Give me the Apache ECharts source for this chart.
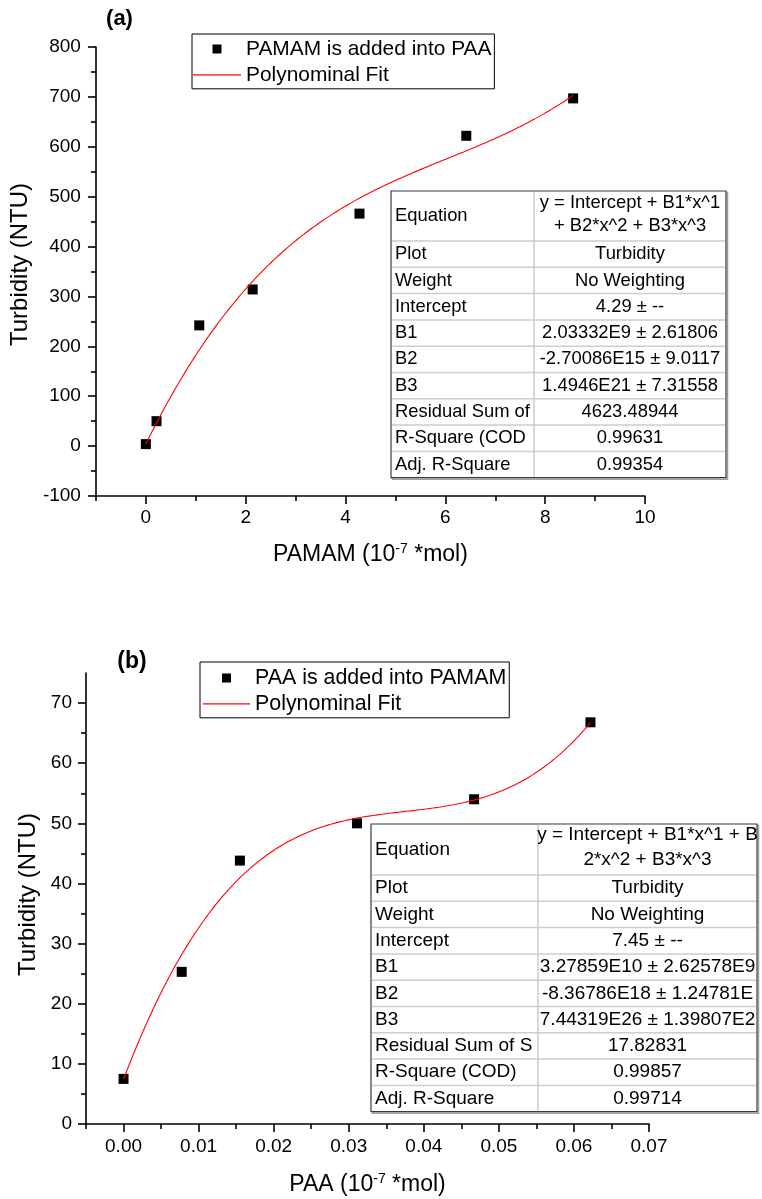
<!DOCTYPE html>
<html>
<head>
<meta charset="utf-8">
<script src="https://cdn.jsdelivr.net/npm/echarts@6/dist/echarts.min.js"></script>
<style>
  html, body { margin: 0; padding: 0; background: #fff; }
  #chart { width: 762px; height: 1199px; }
</style>
</head>
<body>
<div id="chart"></div>
<script>
// ---- Panel (a): PAMAM is added into PAA ----
const pamamAmount = [0, 0.214, 1.07, 2.14, 4.28, 6.42, 8.56];
const pamamTurbidity = [4, 50, 242, 314, 466, 622, 697];
const xTicksA = [0, 2, 4, 6, 8, 10];
const xMinorA = [-1, 1, 3, 5, 7, 9];
const yTicksA = [-100, 0, 100, 200, 300, 400, 500, 600, 700, 800];
const yMinorA = [-50, 50, 150, 250, 350, 450, 550, 650, 750];
const fitRowsA = ['Equation', 'Plot', 'Weight', 'Intercept', 'B1', 'B2', 'B3',
  'Residual Sum of', 'R-Square (COD', 'Adj. R-Square'];
const fitValuesA = ['y = Intercept + B1*x^1\n+ B2*x^2 + B3*x^3', 'Turbidity', 'No Weighting',
  '4.29 \u00b1 --', '2.03332E9 \u00b1 2.61806', '-2.70086E15 \u00b1 9.0117',
  '1.4946E21 \u00b1 7.31558', '4623.48944', '0.99631', '0.99354'];

// ---- Panel (b): PAA is added into PAMAM ----
const paaAmount = [0, 0.00775, 0.0155, 0.0311, 0.0467, 0.0622];
const paaTurbidity = [7.5, 25.3, 43.8, 50, 54, 66.8];
const xTicksB = [0, 0.01, 0.02, 0.03, 0.04, 0.05, 0.06, 0.07];
const xMinorB = [-0.005, 0.005, 0.015, 0.025, 0.035, 0.045, 0.055, 0.065];
const yTicksB = [0, 10, 20, 30, 40, 50, 60, 70];
const yMinorB = [5, 15, 25, 35, 45, 55, 65];
const fitRowsB = ['Equation', 'Plot', 'Weight', 'Intercept', 'B1', 'B2', 'B3',
  'Residual Sum of S', 'R-Square (COD)', 'Adj. R-Square'];
const fitValuesB = ['y = Intercept + B1*x^1 + B\n2*x^2 + B3*x^3', 'Turbidity', 'No Weighting',
  '7.45 \u00b1 --', '3.27859E10 \u00b1 2.62578E9', '-8.36786E18 \u00b1 1.24781E',
  '7.44319E26 \u00b1 1.39807E2', '17.82831', '0.99857', '0.99714'];

const seriesNameA = 'PAMAM is added into PAA';
const seriesNameB = 'PAA is added into PAMAM';
const fitName = 'Polynominal Fit';

const FONT = "'Liberation Sans', Arial, sans-serif";

// Cubic fit curve from the fitted coefficients listed in the table
// (x on the axis is in units of 1e-7 mol, the coefficients are per mol).
function fitCurve(values, xs) {
  const c = [3, 4, 5, 6].map(i => parseFloat(values[i]));
  const xMax = Math.max(...xs);
  const pts = [];
  const n = 160;
  for (let i = 0; i <= n; i++) {
    const x = xMax * i / n;
    const m = x * 1e-7;
    pts.push([x, c[0] + c[1] * m + c[2] * m * m + c[3] * m * m * m]);
  }
  return pts;
}

function axisPair(gridIndex, position, min, max, major, minor, fmt, name, nameCfg, labelMargin) {
  const lineStyle = { color: '#000', width: 1.6 };
  const main = {
    type: 'value', gridIndex, position, min, max,
    axisLine: { show: true, onZero: false, lineStyle },
    axisTick: { show: true, inside: false, length: 8, customValues: major, lineStyle },
    axisLabel: { show: true, customValues: major, margin: labelMargin, formatter: fmt,
      fontSize: 19, fontFamily: FONT, color: '#000' },
    splitLine: { show: false },
    name, nameLocation: 'middle', ...nameCfg
  };
  const sub = {
    type: 'value', gridIndex, position, min, max,
    axisLine: { show: false, onZero: false },
    axisTick: { show: true, inside: false, length: 5, customValues: minor, lineStyle },
    axisLabel: { show: false },
    splitLine: { show: false }
  };
  return [main, sub];
}

const xNameRich = {
  t: { fontSize: 23, fontFamily: FONT, color: '#000', lineHeight: 26 },
  s: { fontSize: 14, fontFamily: FONT, color: '#000', lineHeight: 14, verticalAlign: 'top' }
};

const xAxes = [
  ...axisPair(0, 'bottom', -1, 10, xTicksA, xMinorA, v => String(v),
    '{t|PAMAM (10}{s|-7}{t| *mol)}', { nameGap: 46, nameTextStyle: { rich: xNameRich } }, 12),
  ...axisPair(1, 'bottom', -0.005, 0.07, xTicksB, xMinorB, v => v.toFixed(2),
    '{t|PAA (10}{s|-7}{t| *mol)}', { nameGap: 48, nameTextStyle: { rich: xNameRich } }, 13)
];
const yAxes = [
  ...axisPair(0, 'left', -100, 800, yTicksA, yMinorA, v => String(v),
    'Turbidity (NTU)', { nameGap: 56, nameRotate: 90,
      nameTextStyle: { fontSize: 24, fontFamily: FONT, color: '#000', padding: [0, 0, 0, 14] } }, 15),
  ...axisPair(1, 'left', 0, 75, yTicksB, yMinorB, v => String(v),
    'Turbidity (NTU)', { nameGap: 39, nameRotate: 90,
      nameTextStyle: { fontSize: 24, fontFamily: FONT, color: '#000', padding: [0, 0, 0, 8] } }, 14)
];

// Fit-result table drawn as a block of cells
function fitTable(x0, x1, xDiv, y0, eqH, rowH, labels, values, fontSize, eqLineH) {
  const els = [];
  const n = labels.length;
  const rowTop = i => (i === 0 ? y0 : y0 + eqH + (i - 1) * rowH);
  const yEnd = rowTop(n);
  const font = fontSize + 'px ' + FONT;
  els.push({ type: 'rect', z: 20, silent: true,
    shape: { x: x0 + 1.5, y: y0 + 1.5, width: x1 - x0, height: yEnd - y0 },
    style: { fill: 'none', stroke: '#a0a0a0', lineWidth: 1.5 } });
  els.push({ type: 'rect', z: 21, silent: true,
    shape: { x: x0, y: y0, width: x1 - x0, height: yEnd - y0 },
    style: { fill: '#fff', stroke: '#3a3a3a', lineWidth: 1.2 } });
  for (let i = 1; i < n; i++) {
    els.push({ type: 'line', z: 22, silent: true,
      shape: { x1: x0 + 1, y1: rowTop(i), x2: x1 - 1, y2: rowTop(i) },
      style: { stroke: '#cdcdcd', lineWidth: 1.5 } });
  }
  els.push({ type: 'line', z: 22, silent: true,
    shape: { x1: xDiv, y1: y0 + 1, x2: xDiv, y2: yEnd - 1 },
    style: { stroke: '#cdcdcd', lineWidth: 1.5 } });
  for (let i = 0; i < n; i++) {
    const cy = (rowTop(i) + rowTop(i + 1)) / 2;
    els.push({ type: 'text', z: 23, silent: true,
      style: { text: labels[i], x: x0 + 4, y: cy, font, fill: '#000',
        textAlign: 'left', textVerticalAlign: 'middle' } });
    els.push({ type: 'text', z: 23, silent: true,
      style: { text: values[i], x: (xDiv + x1) / 2, y: cy - (i === 0 ? 2 : 0), font, fill: '#000',
        textAlign: 'center', textVerticalAlign: 'middle', lineHeight: eqLineH } });
  }
  return els;
}

const squareIcon = 'path://M0,0L10,0L10,10L0,10Z';
const lineIcon = 'path://M0,0L48,0L48,1.2L0,1.2Z';

function legendCfg(names, left, top, padding, itemWidth, fontSize) {
  return {
    data: [{ name: names[0], icon: squareIcon }, { name: names[1], icon: lineIcon }],
    orient: 'vertical', left, top, padding,
    itemWidth, itemHeight: 9, itemGap: 1.8,
    borderColor: '#000', borderWidth: 1, borderRadius: 0,
    selectedMode: false,
    textStyle: { fontSize, fontFamily: FONT, color: '#000', lineHeight: 24 }
  };
}

const chart = echarts.init(document.getElementById('chart'), null, { renderer: 'canvas' });
chart.setOption({
  animation: false,
  backgroundColor: '#fff',
  grid: [
    { left: 92, top: 47, width: 553, height: 449 },
    { left: 86, top: 673, width: 563, height: 451 }
  ],
  xAxis: xAxes,
  yAxis: yAxes,
  legend: [
    legendCfg([seriesNameA, fitName], 192, 34, [3, 3, 2, 1], 48, 20.9),
    legendCfg([seriesNameB, fitName], 200, 662, [4, 3, 2, 3], 47, 21.4)
  ],
  graphic: [
    { type: 'text', silent: true,
      style: { text: '(a)', x: 119.5, y: 19, font: 'bold 22px ' + FONT, fill: '#000',
        textAlign: 'center', textVerticalAlign: 'middle' } },
    { type: 'text', silent: true,
      style: { text: '(b)', x: 132, y: 662, font: 'bold 23px ' + FONT, fill: '#000',
        textAlign: 'center', textVerticalAlign: 'middle' } },
    ...fitTable(391, 726, 534, 191, 50, 26.3, fitRowsA, fitValuesA, 18.4, 23),
    ...fitTable(371, 757, 538, 824, 51, 26.3, fitRowsB, fitValuesB, 19, 25)
  ],
  series: [
    { name: seriesNameA, type: 'scatter', xAxisIndex: 0, yAxisIndex: 0,
      symbol: 'rect', symbolSize: 10, itemStyle: { color: '#000', opacity: 1 }, z: 2,
      data: pamamAmount.map((x, i) => [x, pamamTurbidity[i]]) },
    { name: fitName, type: 'line', xAxisIndex: 0, yAxisIndex: 0,
      symbol: 'none', showSymbol: false, smooth: false, z: 3,
      itemStyle: { color: '#ff0000' }, lineStyle: { color: '#ff0000', width: 1.1 },
      data: fitCurve(fitValuesA, pamamAmount) },
    { name: seriesNameB, type: 'scatter', xAxisIndex: 2, yAxisIndex: 2,
      symbol: 'rect', symbolSize: 10, itemStyle: { color: '#000', opacity: 1 }, z: 2,
      data: paaAmount.map((x, i) => [x, paaTurbidity[i]]) },
    { name: fitName, type: 'line', xAxisIndex: 2, yAxisIndex: 2,
      symbol: 'none', showSymbol: false, smooth: false, z: 3,
      itemStyle: { color: '#ff0000' }, lineStyle: { color: '#ff0000', width: 1.1 },
      data: fitCurve(fitValuesB, paaAmount) }
  ]
});
</script>
</body>
</html>
